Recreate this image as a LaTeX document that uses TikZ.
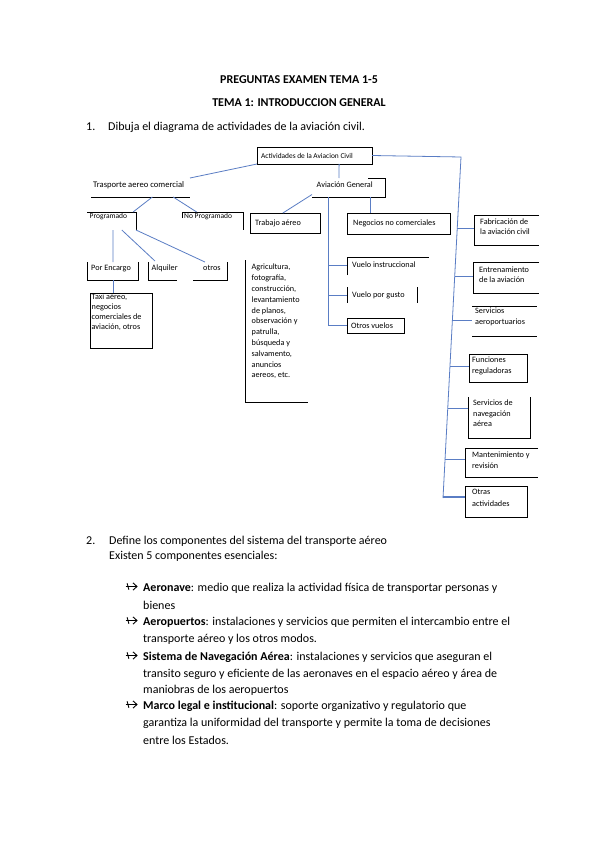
\documentclass[tikz,border=0pt]{standalone}
\usepackage{fontspec}
\setmainfont{Carlito}
\usetikzlibrary{calc,arrows.meta}
\definecolor{conn}{HTML}{5A7DC4}
\tikzset{
  x=1pt, y=-1pt,
  tx/.style={anchor=west, inner sep=0pt, font=\fontsize{12}{14}\selectfont},
  ttl/.style={anchor=center, inner sep=0pt, font=\fontsize{12}{14}\selectfont\bfseries},
  dt/.style={anchor=west, inner sep=0pt, font=\fontsize{8.2}{10.8}\selectfont, align=left},
  dts/.style={dt, font=\fontsize{7.5}{10}\selectfont},
  frame/.style={inner sep=0pt, outer sep=0pt, anchor=north west},
  bl/.style={draw=black, line width=0.9pt},
  cn/.style={draw=conn, line width=0.8pt},
  bullet/.style={line width=0.9pt}
}
\newcommand{\frm}[5]{\node[frame, minimum width=#4, minimum height=#5] (#1) at (#2,#3) {};}
\begin{document}
\begin{tikzpicture}
\useasboundingbox[fill=white] (0,0) rectangle (599,848);

% ---------- header ----------
\node[ttl] (t1) at (299,80) {PREGUNTAS EXAMEN TEMA 1-5};
\node[ttl] (t2) at (299,103) {TEMA 1: INTRODUCCION GENERAL};
\node[tx] (q1n) at (86,127) {1.};
\node[tx] (q1) at (108,127) {Dibuja el diagrama de actividades de la aviación civil.};

% ---------- frames ----------
\frm{act}{257}{147}{115}{17}
\frm{trans}{91}{178}{99}{19}
\frm{prog}{87}{212}{49}{18}
\frm{noprog}{182}{212}{61}{18}
\frm{porenc}{87}{262}{51}{18}
\frm{alq}{148}{262}{29}{18}
\frm{otros}{193}{262}{34}{18}
\frm{taxi}{90}{293}{62}{55}
\frm{agri}{245}{260}{63}{142}
\frm{avg}{312}{178}{73}{19}
\frm{trab}{250}{213}{70}{20}
\frm{neg}{347}{213}{103}{21}
\frm{vinst}{347}{257}{82}{18}
\frm{vgusto}{347}{287}{70}{16}
\frm{votros}{347}{318}{57}{15}
\frm{fab}{474}{215}{65}{30}
\frm{entr}{473}{262}{66}{31}
\frm{serv}{472}{306}{65}{30}
\frm{func}{469}{354}{58}{28}
\frm{nav}{468}{397}{62}{41}
\frm{mant}{465}{448}{73}{29}
\frm{otras}{465}{486}{62}{31}

% ---------- frame lines ----------
\draw[bl] (act.north west) rectangle (act.south east);
\draw[bl] (trans.south west) -- (trans.south east);
\draw[bl] (prog.north west) -- (prog.north east) -- (prog.south east);
\draw[bl] ($(noprog.north west)+(0,6)$) -- (noprog.north west) -- (noprog.north east) -- (noprog.south east);
\draw[bl] (porenc.north west) -- (porenc.south west) -- (porenc.south east) -- (porenc.north east);
\draw[bl] (alq.north west) -- (alq.south west) -- (alq.south east);
\draw[bl] (otros.south west) -- (otros.south east) -- (otros.north east);
\draw[bl] (taxi.north west) rectangle (taxi.south east);
\draw[bl] (agri.north west) -- (agri.south west) -- (agri.south east);
\draw[bl] ($(avg.north east)+(-17,0)$) -- (avg.north east) -- (avg.south east) -- (avg.south west);
\draw[bl] (trab.north west) rectangle (trab.south east);
\draw[bl] (neg.north west) rectangle (neg.south east);
\draw[bl] (vinst.south west) -- (vinst.north west) -- (vinst.north east);
\draw[bl] (vgusto.north west) -- (vgusto.south west);
\draw[bl] (vgusto.north east) -- (vgusto.south east);
\draw[bl] (votros.north west) rectangle (votros.south east);
\draw[bl] (fab.north east) -- (fab.north west) -- (fab.south west) -- (fab.south east);
\draw[bl] (entr.north east) -- (entr.north west) -- (entr.south west) -- (entr.south east);
\draw[bl] (serv.north west) -- (serv.north east);
\draw[bl] (serv.south west) -- (serv.south east);
\draw[bl] (func.north west) rectangle (func.south east);
\draw[bl] (nav.north west) -- (nav.south west) -- (nav.south east) -- (nav.north east);
\draw[bl] (mant.north east) -- (mant.north west) -- (mant.south west) -- (mant.south east);
\draw[bl] (otras.north west) rectangle (otras.south east);

% ---------- texts in diagram ----------
\node[dt, font=\fontsize{7.4}{10}\selectfont] (actT) at (261,155.5) {Actividades de la Aviacion Civil};
\node[dt, font=\fontsize{8.6}{10}\selectfont] (transT) at (93,185) {Trasporte aereo comercial};
\node[dts] (progT) at (89.5,216.7) {Programado};
\node[dts] (noprogT) at (184,216.7) {No Programado};
\node[dt] (porencT) at (91,268.3) {Por Encargo};
\node[dt] (alqT) at (151.5,268.3) {Alquiler};
\node[dt] (otrosT) at (203,268.3) {otros};
\node[dt, anchor=north west, font=\fontsize{8.2}{10}\selectfont] (taxiT) at (91.5,293.2) {Taxi aéreo,\\negocios\\comerciales de\\aviación, otros};
\node[dt, anchor=north west] (agriT) at (251.5,264) {Agricultura,\\fotografía,\\construcción,\\levantamiento\\de planos,\\observación y\\patrulla,\\búsqueda y\\salvamento,\\anuncios\\aereos, etc.};
\node[dt] (avgT) at (316.5,185) {Aviación General};
\node[dt] (trabT) at (255,223) {Trabajo aéreo};
\node[dt] (negT) at (353,223.5) {Negocios no comerciales};
\node[dt] (vinstT) at (352,265) {Vuelo instruccional};
\node[dt] (vgustoT) at (352,295) {Vuelo por gusto};
\node[dt] (votrosT) at (351,326) {Otros vuelos};
\node[dt, anchor=north west, font=\fontsize{8.2}{10}\selectfont] (fabT) at (480,218.5) {Fabricación de\\la aviación civil};
\node[dt, anchor=north west] (entrT) at (479,266.2) {Entrenamiento\\de la aviación};
\node[dt, anchor=north west, font=\fontsize{8.2}{11.5}\selectfont] (servT) at (475,307.5) {Servicios\\aeroportuarios};
\node[dt, anchor=north west, font=\fontsize{8.2}{11.5}\selectfont] (funcT) at (472,356.3) {Funciones\\reguladoras};
\node[dt, anchor=north west] (navT) at (473,399.5) {Servicios de\\navegación\\aérea};
\node[dt, anchor=north west] (mantT) at (472,451.5) {Mantenimiento y\\revisión};
\node[dt, anchor=north west, font=\fontsize{8.2}{11.5}\selectfont] (otrasT) at (472,489.3) {Otras\\actividades};

% ---------- connectors ----------
\draw[cn] (act.south west) -- (trans.north east);
\draw[cn] ($(trans.south west)!0.62!(trans.south east)$) -- ($(prog.north west)!0.94!(prog.north east)$);
\draw[cn] ($(trans.south west)!0.83!(trans.south east)$) -- ($(noprog.north west)!0.24!(noprog.north east)$);
\draw[cn] ($(prog.south west)!0.53!(prog.south east)$) -- ($(porenc.north west)!0.51!(porenc.north east)$);
\draw[cn] ($(prog.south west)!0.71!(prog.south east)$) -- ($(alq.north west)!0.24!(alq.north east)+(0,-1)$);
\draw[cn] ($(prog.south west)!1.0!(prog.south east)$) -- ($(otros.north west)!0.35!(otros.north east)$);
\draw[cn] (porenc.south -| taxi.north west) ++(23,0) coordinate (pe) -- (pe |- taxi.north);
\draw[cn] ($(act.south west)!0.714!(act.south east)$) -- ($(avg.north west)!0.37!(avg.north east)$);
\draw[cn] ($(avg.south west)+(0,-2.5)$) -- ($(trab.north west)!0.47!(trab.north east)$);
\draw[cn] ($(neg.north west)!0.23!(neg.north east)$) coordinate (ng) -- (ng |- avg.south);
\coordinate (vt) at ($(avg.south west)!0.23!(avg.south east)$);
\draw[cn] (vt) -- (vt |- votros.west);
\draw[cn] (vt |- vinst.west) ++(0,-1) -- ++(18,0);
\draw[cn] (vt |- vgusto.west) -- (vgusto.west);
\draw[cn] (vt |- votros.west) -- (votros.west);

% right spine
\coordinate (sp1) at (461,157);
\coordinate (sp2) at (443,498);
\draw[cn] (act.east) -- (sp1) -- (sp2);
\draw[cn] ($(sp1)!0.208!(sp2)$) coordinate (b1) -- (b1 -| fab.west);
\draw[cn] ($(sp1)!0.349!(sp2)$) coordinate (b2) -- (b2 -| entr.west);
\draw[cn] ($(sp1)!0.478!(sp2)$) coordinate (b3) -- (b3 -| serv.west);
\draw[cn] ($(sp1)!0.613!(sp2)$) coordinate (b4) -- (b4 -| func.west);
\draw[cn] ($(sp1)!0.736!(sp2)$) coordinate (b5) -- (b5 -| nav.west);
\draw[cn] ($(sp1)!0.886!(sp2)$) coordinate (b6) -- (b6 -| mant.west);
\draw[cn, line width=1.4pt] ($(sp1)!0.997!(sp2)$) coordinate (b7) -- (b7 -| otras.west);

% ---------- section 2 ----------
\node[tx] (q2n) at (86,541) {2.};
\node[tx] (q2) at (109,541) {Define los componentes del sistema del transporte aéreo};
\node[tx] (q2b) at (109,556.5) {Existen 5 componentes esenciales:};

\foreach \yy/\nm in {586.5/a1,620.5/a2,655.5/a3,704.5/a4}{
  \coordinate (\nm) at (125.5,\yy);
  \draw[bullet] (\nm) -- ++(11.5,0);
  \draw[bullet, line join=miter] ($(\nm)+(7.5,-3.6)$) -- ($(\nm)+(11.5,0)$) -- ($(\nm)+(7.5,3.6)$);
  \draw[bullet] ($(\nm)+(1.6,-3.2)$) -- ($(\nm)+(3.4,3.2)$);
}
\node[tx] (l1) at (143,588) {\textbf{Aeronave}: medio que realiza la actividad física de transportar personas y};
\node[tx] (l2) at (143,605) {bienes};
\node[tx] (l3) at (143,622) {\textbf{Aeropuertos}: instalaciones y servicios que permiten el intercambio entre el};
\node[tx] (l4) at (143,639) {transporte aéreo y los otros modos.};
\node[tx] (l5) at (143,657) {\textbf{Sistema de Navegación Aérea}: instalaciones y servicios que aseguran el};
\node[tx] (l6) at (143,674) {transito seguro y eficiente de las aeronaves en el espacio aéreo y área de};
\node[tx] (l7) at (143,690) {maniobras de los aeropuertos};
\node[tx] (l8) at (143,706) {\textbf{Marco legal e institucional}: soporte organizativo y regulatorio que};
\node[tx] (l9) at (143,723) {garantiza la uniformidad del transporte y permite la toma de decisiones};
\node[tx] (l10) at (143,740) {entre los Estados.};
\end{tikzpicture}
\end{document}
